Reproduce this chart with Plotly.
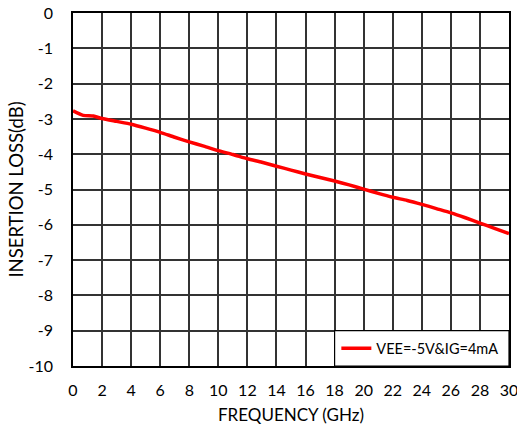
import plotly.graph_objects as go

# Insertion loss vs frequency
freq_ghz = [0, 0.7, 1.4, 2, 3, 4, 5, 6, 7, 8, 9, 10, 11, 12, 13, 14, 15, 16, 17,
            18, 19, 20, 21, 22, 23, 24, 25, 26, 27, 28, 29, 30]
loss_db = [-2.77, -2.90, -2.92, -2.99, -3.07, -3.15, -3.26, -3.38, -3.52, -3.65, -3.77,
           -3.90, -4.01, -4.13, -4.23, -4.34, -4.45, -4.56, -4.66, -4.76, -4.87, -4.99,
           -5.11, -5.22, -5.31, -5.42, -5.54, -5.66, -5.80, -5.95, -6.10, -6.25]
series_name = "VEE=-5V&IG=4mA"

x_ticks = list(range(0, 31, 2))
y_ticks = list(range(-10, 1, 1))

FONT = "Lato"
GRID = "#333333"

fig = go.Figure()
fig.add_trace(go.Scatter(
    x=freq_ghz, y=loss_db, mode="lines", name=series_name,
    line=dict(color="#ff0000", width=3.5, shape="spline", smoothing=0.6),
    showlegend=True,
))

# legend frame over the lower-right grid cell block
fig.add_shape(type="rect", xref="x", yref="y", x0=18, x1=30, y0=-10, y1=-9,
              fillcolor="white", line=dict(color="black", width=1.2), layer="above")

fig.update_layout(
    width=517, height=432,
    margin=dict(l=73, r=8, t=13, b=66, autoexpand=False),
    paper_bgcolor="white", plot_bgcolor="white",
    font=dict(family=FONT, size=16, color="black"),
    showlegend=True,
    legend=dict(x=0.604, y=0.05, xanchor="left", yanchor="middle",
                bgcolor="rgba(0,0,0,0)", borderwidth=0,
                font=dict(family=FONT, size=14.5, color="black"),
                itemwidth=30, tracegroupgap=0),
    xaxis=dict(
        range=[0, 30], tickvals=x_ticks, ticktext=[str(v) for v in x_ticks],
        showgrid=True, gridcolor=GRID, gridwidth=1.5, automargin=False,
        ticklabeloverflow="allow",
        showline=True, linecolor="black", linewidth=1.5, mirror=True,
        zeroline=False, ticks="", ticklabelstandoff=9,
        title=dict(text="FREQUENCY (GHz)", font=dict(family=FONT, size=17), standoff=11),
    ),
    yaxis=dict(
        range=[-10, 0], tickvals=y_ticks, ticktext=[str(v) for v in y_ticks],
        showgrid=True, gridcolor=GRID, gridwidth=1.5, automargin=False,
        ticklabeloverflow="allow",
        showline=True, linecolor="black", linewidth=1.5, mirror=True,
        zeroline=False, ticks="", ticklabelstandoff=15,
        title=dict(text="INSERTION LOSS(dB)", font=dict(family=FONT, size=18.5), standoff=0),
    ),
)

fig.write_html("out.html")
